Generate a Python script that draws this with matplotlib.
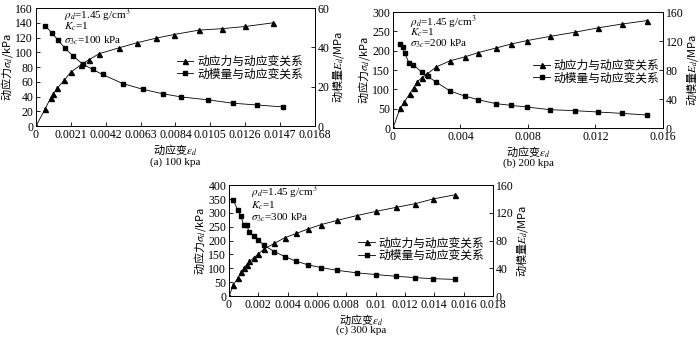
import matplotlib
matplotlib.use("Agg")
import matplotlib.pyplot as plt

plt.rcParams['font.family'] = ['Liberation Serif', 'Noto Sans CJK SC']
plt.rcParams['mathtext.fontset'] = 'stix'
plt.rcParams['font.size'] = 8

# (a) sigma_3c = 100 kPa
strain_a = [0, 0.00054, 0.00088, 0.00104, 0.00128, 0.00169, 0.0021, 0.0027, 0.0032,
            0.0038, 0.0050, 0.0061, 0.0072, 0.0083, 0.0098, 0.0112, 0.0126, 0.0143]
stress_a = [0, 22.7, 38, 44, 51, 62, 73, 83, 90, 98, 106, 113, 119, 124, 130, 132, 135, 140]
strain_a_e = [0.00054, 0.00094, 0.00132, 0.00173, 0.00221, 0.00281, 0.00341, 0.00401,
              0.00522, 0.00642, 0.00763, 0.00873, 0.01038, 0.01184, 0.01329, 0.01489]
modulus_a = [51.1, 47.5, 43.8, 39.7, 35.8, 31.5, 28.8, 26.2, 21.6, 18.7, 16.4, 14.8,
             13.3, 11.6, 10.7, 9.7]

# (b) sigma_3c = 200 kPa
strain_b = [0, 0.00043, 0.00067, 0.00099, 0.00122, 0.00142, 0.00171, 0.00201, 0.00256,
            0.00339, 0.00426, 0.00504, 0.00611, 0.00698, 0.00792, 0.0093, 0.0108,
            0.01214, 0.01356, 0.01507]
stress_b = [0, 51.7, 67, 89, 104, 119, 130, 139, 158, 174, 184, 195, 207, 217, 226,
            237, 248, 259, 269, 278]
strain_b_e = [0.00043, 0.00057, 0.00069, 0.00095, 0.00118, 0.00171, 0.00205, 0.00256,
              0.00339, 0.00426, 0.00504, 0.00611, 0.00698, 0.00792, 0.0093, 0.0108,
              0.01214, 0.01356, 0.01507]
modulus_b = [116.3, 111.7, 103.9, 89.7, 87.4, 77.2, 71.3, 63.4, 51.0, 44.1, 39.1, 33.6,
             31.3, 29.0, 25.3, 23.9, 22.1, 20.2, 17.9]

# (c) sigma_3c = 300 kPa
strain_c = [0, 0.0003, 0.0006, 0.0008, 0.0010, 0.0012, 0.0014, 0.0017, 0.0020, 0.0024,
            0.0031, 0.0038, 0.0046, 0.0054, 0.0063, 0.0074, 0.0087, 0.0100, 0.0114,
            0.0127, 0.0139, 0.0154]
stress_c = [0, 40, 65, 85, 100, 113, 125, 138, 152, 170, 190, 210, 226, 242, 258, 273,
            290, 305, 320, 333, 350, 365]
strain_c_e = strain_c[1:]
modulus_c = [138, 124, 116, 103, 102, 92, 86, 81, 73, 64, 57, 50, 45, 41, 37, 33.5, 31,
             28.5, 26.5, 25, 24]

xticks_a = [0, 0.0021, 0.0042, 0.0063, 0.0084, 0.0105, 0.0126, 0.0147, 0.0168]
xlabels_a = ['0', '0.0021', '0.0042', '0.0063', '0.0084', '0.0105', '0.0126', '0.0147', '0.0168']
xticks_b = [0, 0.004, 0.008, 0.012, 0.016]
xlabels_b = ['0', '0.004', '0.008', '0.012', '0.016']
xticks_c = [0, 0.002, 0.004, 0.006, 0.008, 0.01, 0.012, 0.014, 0.016, 0.018]
xlabels_c = ['0', '0.002', '0.004', '0.006', '0.008', '0.01', '0.012', '0.014', '0.016', '0.018']

lab_stress = '动应力与动应变关系'
lab_mod = '动模量与动应变关系'
cjk = 'Noto Sans CJK SC'


def panel(fig, rect, sx, sy, ex, ey, xticks, xlabels, yl_max, yl_step, yr_max, yr_step,
          sigma, caption, leg_xy, note_x, note_ys):
    ax = fig.add_axes(rect)
    ax2 = ax.twinx()
    l1, = ax.plot(sx, sy, color='black', lw=0.6, marker='^', ms=3.6)
    l2, = ax2.plot(ex, ey, color='black', lw=0.6, marker='s', ms=2.8)
    ax.set_xlim(0, xticks[-1])
    ax.set_xticks(xticks)
    ax.set_xticklabels(xlabels)
    ax.set_ylim(0, yl_max)
    ax.set_yticks(range(0, yl_max + 1, yl_step))
    ax2.set_ylim(0, yr_max)
    ax2.set_yticks(range(0, yr_max + 1, yr_step))
    for a in (ax, ax2):
        a.tick_params(direction='in', length=3, width=0.6, pad=2, labelsize=8.5)
        for s in a.spines.values():
            s.set_linewidth(0.6)
    ax.set_ylabel(r'动应力$\sigma_d$/kPa', family=cjk, fontsize=8, labelpad=0)
    ax2.set_ylabel(r'动模量$E_d$/MPa', family=cjk, fontsize=8, rotation=90, labelpad=1)
    ax.set_xlabel(r'动应变$\varepsilon_d$', family=cjk, fontsize=8, labelpad=1)
    ax.text(0.5, caption[1], caption[0], transform=ax.transAxes, ha='center', va='center')
    ax.text(note_x, note_ys[0], r'$\rho_d$=1.45 g/cm$^3$', transform=ax.transAxes, va='center')
    ax.text(note_x, note_ys[1], r'$K_c$=1', transform=ax.transAxes, va='center')
    ax.text(note_x, note_ys[2], r'$\sigma_{3c}$=' + sigma, transform=ax.transAxes, va='center')
    ax2.legend([l1, l2], [lab_stress, lab_mod], loc='center left', bbox_to_anchor=leg_xy,
               frameon=False, handlelength=1.4, handletextpad=0.3, labelspacing=0.05,
               borderpad=0, borderaxespad=0, fontsize=8.5)
    return ax


fig = plt.figure(figsize=(7, 3.39), dpi=100)
panel(fig, [0.0514, 0.6283, 0.3986, 0.348], strain_a, stress_a, strain_a_e, modulus_a,
      xticks_a, xlabels_a, 160, 20, 60, 20, '100 kPa', ('(a) 100 kpa', -0.31),
      (0.505, 0.49), 0.1, (0.94, 0.84, 0.72))
panel(fig, [0.5614, 0.6224, 0.3857, 0.342], strain_b, stress_b, strain_b_e, modulus_b,
      xticks_b, xlabels_b, 300, 50, 160, 40, '200 kPa', ('(b) 200 kpa', -0.30),
      (0.52, 0.483), 0.063, (0.91, 0.82, 0.73))
panel(fig, [0.3271, 0.1268, 0.377, 0.327], strain_c, stress_c, strain_c_e, modulus_c,
      xticks_c, xlabels_c, 400, 50, 160, 40, '300 kPa', ('(c) 300 kpa', -0.31),
      (0.49, 0.419), 0.083, (0.93, 0.81, 0.71))

fig.savefig('out.png', dpi=100)
